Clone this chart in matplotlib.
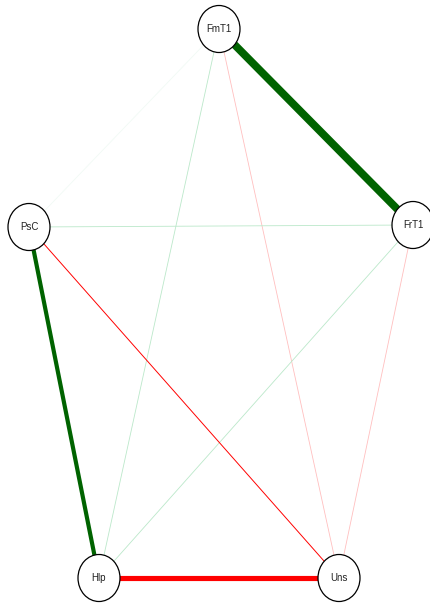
import numpy as np
import matplotlib.pyplot as plt
from matplotlib.patches import Ellipse

# node labels and layout (pixel coordinates, y down)
nodes = ["FmT1", "FrT1", "PsC", "Hlp", "Uns"]
node_x = [219, 413, 29, 99, 339]
node_y = [29, 225, 227, 578, 578]

# partial correlation edges (from, to, weight)
edge_from = ["FmT1", "PsC", "Hlp", "PsC", "FmT1", "FmT1", "FmT1", "PsC", "FrT1", "FrT1"]
edge_to = ["FrT1", "Hlp", "Uns", "Uns", "PsC", "Hlp", "Uns", "FrT1", "Hlp", "Uns"]
edge_w = [0.56, 0.30, -0.37, -0.07, 0.02, 0.045, -0.035, 0.045, 0.045, -0.035]

W, H = 431, 603
fig = plt.figure(figsize=(W / 100, H / 100), dpi=100)
ax = fig.add_axes([0, 0, 1, 1])
ax.set_xlim(0, W)
ax.set_ylim(H, 0)
ax.axis("off")

pos = {n: (x, y) for n, x, y in zip(nodes, node_x, node_y)}


def edge_color(w):
    # strong edges: darkgreen / red, weak ones fade toward white
    a = min(1.0, (abs(w) / 0.07) ** 2)
    if w > 0:
        base = np.array([0.0, 0.39, 0.0]) if a >= 1 else np.array([0.35, 0.78, 0.5])
    else:
        base = np.array([1.0, 0.0, 0.0])
    return tuple(base * a + (1 - a))


order = np.argsort(np.abs(edge_w))
for i in order:
    w = edge_w[i]
    x0, y0 = pos[edge_from[i]]
    x1, y1 = pos[edge_to[i]]
    lw = max(0.6, 10 * abs(w))
    ax.plot([x0, x1], [y0, y1], color=edge_color(w), lw=lw,
            solid_capstyle="butt", zorder=1)

for n in nodes:
    x, y = pos[n]
    ax.add_patch(Ellipse((x, y), 42, 47, facecolor="white", edgecolor="black",
                         lw=0.9, zorder=3))
    ax.text(x, y, n, ha="center", va="center", fontsize=7,
            family="Liberation Sans", color="#222222", zorder=4)

fig.savefig("out.png", dpi=100)
